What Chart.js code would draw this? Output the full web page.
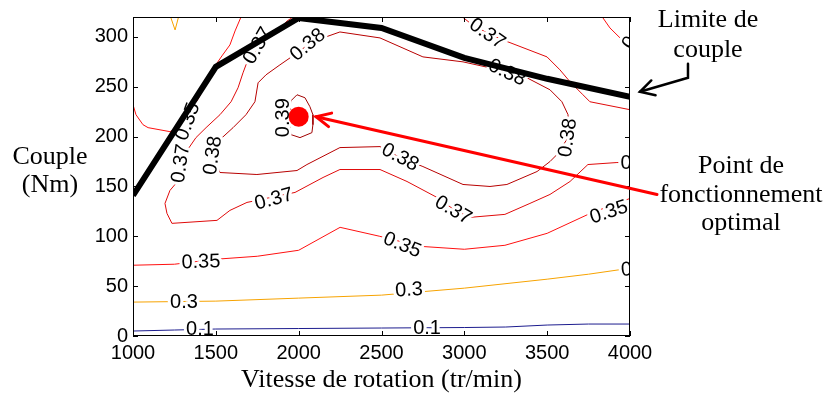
<!DOCTYPE html>
<html><head><meta charset="utf-8">
<script src="https://cdn.jsdelivr.net/npm/chart.js@4.4.1/dist/chart.umd.min.js"></script>
<style>html,body{margin:0;padding:0;background:#fff;}#wrap{width:829px;height:394px;position:relative;}</style>
</head><body><div id="wrap"><canvas id="c" width="829" height="394"></canvas></div>
<script>
// Axis ticks
const xTicks = [1000,1500,2000,2500,3000,3500,4000];
const yTicks = [0,50,100,150,200,250,300];

// Torque limit (Limite de couple)
const limitX = [1000,1500,2000,2500,3000,3500,4000];
const limitY = [141,270,319,309,279,258,240];

// Optimal operating point
const optX = [2000];
const optY = [220];

// Iso-efficiency contours
const iso010X = [1000,1250,1500,2000,2500,3000,3250,3500,3750,4000];
const iso010Y = [5,6,7,7.5,8,8.5,9,11,12,12];

const iso030X = [1000,1500,2000,2500,3000,3500,3750,4000];
const iso030Y = [34,35,38,41,48,57,62,68];
const iso030bX = [1223,1254,1278];
const iso030bY = [322,307,322];

const iso035X = [1000,1250,1500,1750,2000,2250,2490,2730,3000,3245,3500,3760,4000];
const iso035Y = [71,72,77,80,86,109,100,90,87,91,103,123,138];
const iso035bX = [1000,1018,1060,1091,1223,1272,1344,1404,1483,1537,1585,1616,1652,1660];
const iso035bY = [232,222,212,209,205,209,224,241,268,281,292,306,320,330];
const iso035cX = [3820,3837,3879,3940,3988,4000];
const iso035cY = [330,319,309,299,289,286];

const iso037X = [1984,1930,1887,1803,1706,1682,1664,1634,1592,1525,1441,1380,1326,1302,1284,1223,1193,1205,1235,1507,1585,1688,1748,1857,1978,2147,2249,2491,2654,2835,2944,3034,3245,3396,3517,3638,3746,3921,4000];
const iso037Y = [322,316,308,298,278,272,264,249,235,222,209,199,186,171,158,146,133,123,113,116,126,134,136,140,144,159,167,167,155,139,126,119,122,133,142,155,172,174,174];
const iso037bX = [2974,3034,3137,3233,3499,3577,3638,3716,3758,4000];
const iso037bY = [322,314,304,297,280,267,255,242,235,227];

const iso038X = [1525,1748,1990,2050,2249,2491,2612,2750,2992,3155,3257,3439,3517,3559,3626,3626,3589,3517,3378,3257,3155,2992,2750,2491,2249,2147,2056,1948,1887,1803,1755,1736,1682,1604,1525,1483,1525];
const iso038Y = [164,162,166,172,189,190,179,170,152,150,152,165,175,182,199,222,235,247,259,264,269,275,280,299,305,299,292,279,272,262,254,235,222,209,197,181,164];

const iso039X = [1954,1990,2038,2068,2086,2086,2080,2008,1954,1942,1954];
const iso039Y = [236,242,239,230,222,212,204,199,202,218,236];

// Contour labels
const labText = ["0.1","0.1","0.3","0.3","0.3","0.35","0.35","0.35","0.35","0.35","0.37","0.37","0.37","0.37","0.37","0.37","0.38","0.38","0.38","0.38","0.38","0.39"];
const labX = [1404,2775,1308,2666,4030,1410,2624,3873,1332,4042,1755,1290,1851,2932,3137,4060,2056,1483,2612,3626,3257,1911];
const labY = [7,8,34,46,67,74,91,124,215,306,291,173,137,126,303,173,292,181,179,199,264,219];
const labRot = [0,0,0,-3,-5,-2,22,-18,-70,-60,-60,-82,-15,30,35,0,-40,-82,28,-82,25,-90];

// Annotation arrows (data coordinates)
const redArrowX = [4163,2105];
const redArrowY = [142,220];
const blackArrowX = [4350,4350,4060];
const blackArrowY = [273,259,245];

const pts = (xs,ys) => xs.map((x,i)=>({x:x,y:ys[i]}));
function contour(label,xs,ys,color){
  return {label:label,data:pts(xs,ys),showLine:true,borderColor:color,backgroundColor:color,
    borderWidth:1,pointRadius:0,tension:0,clip:0};
}
const C010='#1c1c8e', C030='#f7a300', C035='#ff1010', C037='#e00a0a', C038='#b80000', C039='#a00000';

const datasets = [
  {label:'Point de fonctionnement optimal',data:pts(optX,optY),showLine:false,pointRadius:10,
   backgroundColor:'#ff0000',borderColor:'#ff0000',borderWidth:0},
  {label:'Limite de couple',data:pts(limitX,limitY),showLine:true,borderColor:'#000',borderWidth:6,
   pointRadius:0,tension:0,borderJoinStyle:'miter',borderCapStyle:'butt'},
  contour('0.1',iso010X,iso010Y,C010),
  contour('0.3',iso030X,iso030Y,C030),
  contour('0.3',iso030bX,iso030bY,C030),
  contour('0.35',iso035X,iso035Y,C035),
  contour('0.35',iso035bX,iso035bY,C035),
  contour('0.35',iso035cX,iso035cY,C035),
  contour('0.37',iso037X,iso037Y,C037),
  contour('0.37',iso037bX,iso037bY,C037),
  contour('0.38',iso038X,iso038Y,C038),
  contour('0.39',iso039X,iso039Y,C039)
];

const SERIF = '"Liberation Serif","Times New Roman",serif';
const SANS = '"Liberation Sans",Arial,sans-serif';

function arrowHead(ctx,fx,fy,tx,ty,len,ang){
  const a = Math.atan2(ty-fy,tx-fx);
  ctx.beginPath();
  ctx.moveTo(tx - len*Math.cos(a-ang), ty - len*Math.sin(a-ang));
  ctx.lineTo(tx,ty);
  ctx.lineTo(tx - len*Math.cos(a+ang), ty - len*Math.sin(a+ang));
  ctx.stroke();
}

const overlay = {
  id:'overlay',
  beforeDatasetDraw(chart,args){
    if(args.index!==1) return;
    const ctx=chart.ctx, ca=chart.chartArea, xs=chart.scales.x, ys=chart.scales.y;
    ctx.save();
    ctx.beginPath(); ctx.rect(ca.left,ca.top,ca.right-ca.left,ca.bottom-ca.top); ctx.clip();
    ctx.font='20px '+SANS; ctx.textAlign='center'; ctx.textBaseline='middle';
    for(let i=0;i<labText.length;i++){
      const px=xs.getPixelForValue(labX[i]), py=ys.getPixelForValue(labY[i]);
      ctx.save(); ctx.translate(px,py); ctx.rotate(labRot[i]*Math.PI/180);
      ctx.lineWidth=6; ctx.strokeStyle='#fff'; ctx.lineJoin='round';
      ctx.strokeText(labText[i],0,0);
      ctx.fillStyle='#000'; ctx.fillText(labText[i],0,0);
      ctx.restore();
    }
    ctx.restore();
  },
  afterDraw(chart){
    const ctx=chart.ctx, ca=chart.chartArea, xs=chart.scales.x, ys=chart.scales.y;
    ctx.save();
    // frame and inward ticks
    ctx.strokeStyle='#000'; ctx.lineWidth=1;
    ctx.strokeRect(Math.round(ca.left)+0.5,Math.round(ca.top)+0.5,Math.round(ca.right-ca.left)-1,Math.round(ca.bottom-ca.top)-1);
    ctx.beginPath();
    xTicks.forEach(v=>{const p=Math.round(xs.getPixelForValue(v))+0.5;
      ctx.moveTo(p,ca.bottom); ctx.lineTo(p,ca.bottom-5);
      ctx.moveTo(p,ca.top); ctx.lineTo(p,ca.top+5);});
    yTicks.forEach(v=>{const p=Math.round(ys.getPixelForValue(v))+0.5;
      ctx.moveTo(ca.left,p); ctx.lineTo(ca.left+5,p);
      ctx.moveTo(ca.right,p); ctx.lineTo(ca.right-5,p);});
    ctx.stroke();
    // red arrow
    const rx=redArrowX.map(v=>xs.getPixelForValue(v)), ry=redArrowY.map(v=>ys.getPixelForValue(v));
    ctx.strokeStyle='#ff0000'; ctx.lineWidth=3; ctx.lineCap='round';
    ctx.beginPath(); ctx.moveTo(rx[0],ry[0]); ctx.lineTo(rx[1],ry[1]); ctx.stroke();
    arrowHead(ctx,rx[0],ry[0],rx[1],ry[1],16,0.45);
    // black arrow
    const bx=blackArrowX.map(v=>xs.getPixelForValue(v)), by=blackArrowY.map(v=>ys.getPixelForValue(v));
    ctx.strokeStyle='#000'; ctx.lineWidth=2.5; ctx.lineJoin='miter';
    ctx.beginPath(); ctx.moveTo(bx[0],by[0]); ctx.lineTo(bx[1],by[1]); ctx.lineTo(bx[2],by[2]); ctx.stroke();
    arrowHead(ctx,bx[1],by[1],bx[2],by[2],16,0.5);
    // texts
    ctx.fillStyle='#000'; ctx.font='26px '+SERIF; ctx.textAlign='center'; ctx.textBaseline='alphabetic';
    ctx.fillText('Limite de',708,27);
    ctx.fillText('couple',708,57);
    ctx.fillText('Point de',741,173);
    ctx.fillText('fonctionnement',741,202);
    ctx.fillText('optimal',741,230);
    ctx.fillText('Couple',50,164);
    ctx.fillText('(Nm)',50,192);
    ctx.fillText('Vitesse de rotation (tr/min)',(ca.left+ca.right)/2,387);
    ctx.restore();
  }
};

new Chart(document.getElementById('c'),{
  type:'scatter',
  data:{datasets:datasets},
  options:{
    responsive:false, animation:false, events:[],
    layout:{padding:{left:0,right:199,top:16,bottom:0}},
    plugins:{legend:{display:false},tooltip:{enabled:false}},
    scales:{
      x:{type:'linear',min:1000,max:4000,
         grid:{display:false,drawTicks:false},border:{display:false},
         ticks:{font:{size:20,family:SANS},color:'#000',padding:5,maxRotation:0,autoSkip:false,
                callback:v=>String(v)},
         afterBuildTicks:s=>{s.ticks=xTicks.map(v=>({value:v}));},
         afterFit:s=>{s.height=58;}},
      y:{type:'linear',min:0,max:320,
         grid:{display:false,drawTicks:false},border:{display:false},
         ticks:{font:{size:20,family:SANS},color:'#000',padding:5,autoSkip:false,
                callback:v=>String(v)},
         afterBuildTicks:s=>{s.ticks=yTicks.map(v=>({value:v}));},
         afterFit:s=>{s.width=133;}}
    }
  },
  plugins:[overlay]
});
</script></body></html>
